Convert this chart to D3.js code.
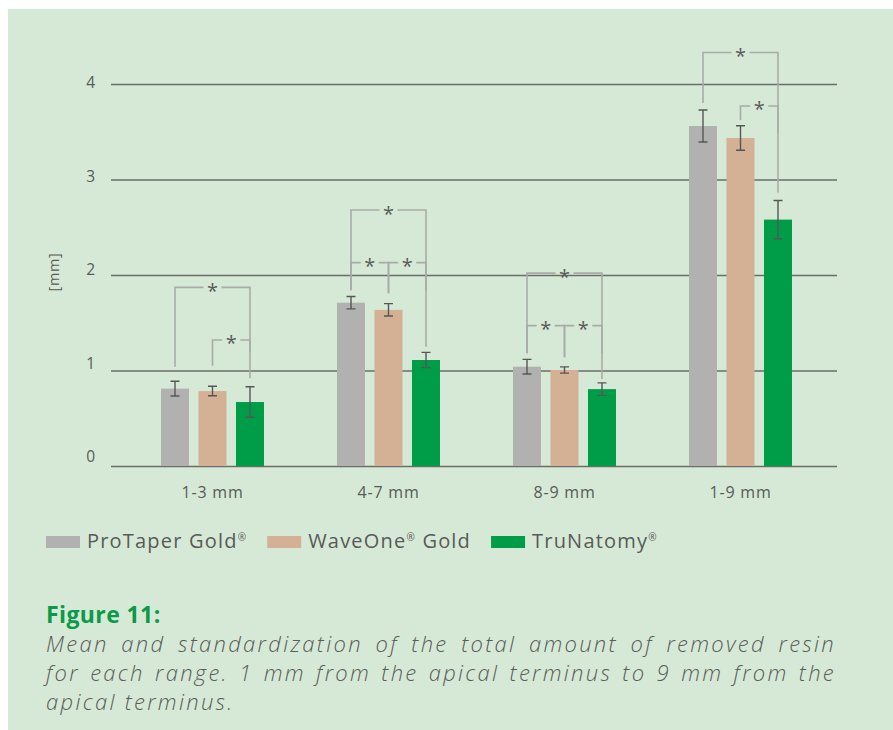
<!DOCTYPE html>
<html>
<head>
<meta charset="utf-8">
<script src="https://cdn.jsdelivr.net/npm/d3@7"></script>
<style>
  body { margin: 0; background: #fff; }
  svg { display: block; }
</style>
</head>
<body>
<svg id="chart" width="893" height="730"></svg>
<script>
// data
var categories = ["1-3 mm", "4-7 mm", "8-9 mm", "1-9 mm"];
var seriesNames = ["ProTaper Gold", "WaveOne", "TruNatomy"];
var protaperMean = [0.81, 1.71, 1.04, 3.56];
var waveoneMean = [0.785, 1.635, 1.005, 3.435];
var trunatomyMean = [0.67, 1.11, 0.805, 2.58];
var protaperSd = [0.077, 0.065, 0.077, 0.168];
var waveoneSd = [0.05, 0.065, 0.033, 0.128];
var trunatomySd = [0.16, 0.08, 0.065, 0.2];
var yTicks = [0, 1, 2, 3, 4];

// significance brackets: category, from/to series index, bar level and leg ends (mm)
var bracketCats = ["1-3 mm", "1-3 mm", "4-7 mm", "4-7 mm", "4-7 mm", "8-9 mm", "8-9 mm", "8-9 mm", "1-9 mm", "1-9 mm"];
var bracketFrom = [0, 1, 0, 0, 1, 0, 0, 1, 0, 1];
var bracketTo = [2, 2, 2, 1, 2, 2, 1, 2, 2, 2];
var bracketLevel = [1.87, 1.32, 2.68, 2.13, 2.13, 2.02, 1.47, 1.47, 4.33, 3.77];
var bracketLegA = [1.04, 1.05, 1.84, 1.84, 1.81, 1.18, 1.18, 1.14, 3.80, 3.62];
var bracketLegB = [0.92, 1.2, 1.25, 1.81, 1.84, 0.91, 1.14, 1.18, 2.86, 3.49];

var colors = ["#b1b1b1", "#d4b195", "#009d48"];
var font = "'Open Sans', sans-serif";
var textColor = "#585a58";

var svg = d3.select("#chart");

// panel
svg.append("rect")
   .attr("x", 8).attr("y", 9)
   .attr("width", 885).attr("height", 721)
   .attr("fill", "#d6e9d6");

var x0 = d3.scaleBand().domain(categories).range([124.5, 828.5]);
var x1 = d3.scaleBand().domain(d3.range(3)).range([-51.5, 51.5]).paddingInner(0.253);
var y = d3.scaleLinear().domain([0, 4]).range([466, 84]);
var yLabel = d3.scaleLinear().domain([0, 4]).range([457, 83]);

// gridlines + tick labels
var yAxis = svg.append("g")
  .attr("transform", "translate(111,0)")
  .call(d3.axisLeft(y).tickValues(yTicks).tickSize(-726).tickPadding(16).tickFormat(d3.format("d")));
yAxis.select(".domain").remove();
yAxis.selectAll(".tick line").attr("stroke", "#6a6d6a").attr("stroke-width", 1.3);
yAxis.selectAll(".tick text")
  .attr("fill", textColor)
  .style("font-family", font)
  .style("font-size", "15.5px")
  .attr("y", d => yLabel(d) - y(d));

svg.append("text")
   .attr("transform", "translate(53,272) rotate(-90)")
   .attr("text-anchor", "middle")
   .attr("dominant-baseline", "central")
   .attr("fill", textColor)
   .style("font-family", font)
   .style("font-size", "14.5px")
   .style("letter-spacing", "0.6px")
   .text("[mm]");

var means = [protaperMean, waveoneMean, trunatomyMean];
var sds = [protaperSd, waveoneSd, trunatomySd];
var rows = [];
categories.forEach(function (c, i) {
  for (var s = 0; s < 3; s++) {
    rows.push({cat: c, s: s, mean: means[s][i], sd: sds[s][i]});
  }
});

function barCenter(cat, s) {
  return x0(cat) + x0.bandwidth() / 2 + x1(s) + x1.bandwidth() / 2;
}

svg.append("g").selectAll("rect")
   .data(rows)
   .enter().append("rect")
   .attr("x", d => x0(d.cat) + x0.bandwidth() / 2 + x1(d.s))
   .attr("width", x1.bandwidth())
   .attr("y", d => y(d.mean))
   .attr("height", d => y(0) - y(d.mean))
   .attr("fill", d => colors[d.s]);

// error bars
var err = svg.append("g").attr("stroke", "#555755").attr("stroke-width", 1.4).attr("fill", "none");
err.selectAll("path")
   .data(rows)
   .enter().append("path")
   .attr("d", function (d) {
     var cx = barCenter(d.cat, d.s);
     var t = y(d.mean + d.sd), b = y(d.mean - d.sd);
     return "M" + (cx - 4.5) + "," + t + "H" + (cx + 4.5) +
            "M" + cx + "," + t + "V" + b +
            "M" + (cx - 4.5) + "," + b + "H" + (cx + 4.5);
   });

// x labels
svg.append("g").selectAll("text")
   .data(categories)
   .enter().append("text")
   .attr("x", d => x0(d) + x0.bandwidth() / 2)
   .attr("y", 498)
   .attr("text-anchor", "middle")
   .attr("fill", textColor)
   .style("font-family", font)
   .style("font-size", "16px")
   .style("letter-spacing", "0.8px")
   .text(d => d);

// significance brackets
var brk = svg.append("g");
bracketCats.forEach(function (c, i) {
  var xa = barCenter(c, bracketFrom[i]);
  var xb = barCenter(c, bracketTo[i]);
  var ly = y(bracketLevel[i]);
  var mid = (xa + xb) / 2;
  brk.append("path")
     .attr("d", "M" + xa + "," + y(bracketLegA[i]) + "V" + ly + "H" + (mid - 9) +
                "M" + (mid + 9) + "," + ly + "H" + xb + "V" + y(bracketLegB[i]))
     .attr("fill", "none")
     .attr("stroke", "#a8aca8")
     .attr("stroke-width", 1.6);
  brk.append("text")
     .attr("x", mid)
     .attr("y", ly + 10.5)
     .attr("text-anchor", "middle")
     .attr("fill", "#5a5c5a")
     .style("font-family", font)
     .style("font-size", "20px")
     .text("*");
});

// legend
var legendLabels = [["ProTaper Gold", "®", ""], ["WaveOne", "®", " Gold"], ["TruNatomy", "®", ""]];
var lx = 46;
legendLabels.forEach(function (lab, i) {
  svg.append("rect")
     .attr("x", lx).attr("y", 536)
     .attr("width", 34).attr("height", 12)
     .attr("fill", colors[i]);
  var t = svg.append("text")
     .attr("x", lx + 41).attr("y", 548)
     .attr("fill", textColor)
     .style("font-family", font)
     .style("font-size", "20px")
     .style("letter-spacing", "1.2px");
  t.append("tspan").text(lab[0]);
  t.append("tspan").attr("dy", -7).style("font-size", "10px").text(lab[1]);
  t.append("tspan").attr("dy", 7).text(lab[2]);
  lx = lx + 41 + t.node().getComputedTextLength() + 20;
});

// caption
svg.append("text")
   .attr("x", 46).attr("y", 623)
   .attr("fill", "#0a9a48")
   .style("font-family", font)
   .style("font-weight", 700)
   .style("font-size", "23px")
   .style("letter-spacing", "0.4px")
   .text("Figure 11:");

var captionLines = [
  "Mean and standardization of the total amount of removed resin",
  "for each range. 1 mm from the apical terminus to 9 mm from the",
  "apical terminus."
];
captionLines.forEach(function (line, i) {
  var t = svg.append("text")
     .attr("x", 46).attr("y", 652 + i * 29)
     .attr("fill", "#5a5c5a")
     .style("font-family", font)
     .style("font-style", "italic")
     .style("font-weight", 300)
     .style("font-size", "22px")
     .style("letter-spacing", "2.3px")
     .text(line);
  if (i < captionLines.length - 1) {
    var w = t.node().getComputedTextLength();
    var gaps = line.split(" ").length - 1;
    t.attr("word-spacing", Math.max(0, (836 - 46 - w) / gaps));
  }
});
</script>
</body>
</html>
